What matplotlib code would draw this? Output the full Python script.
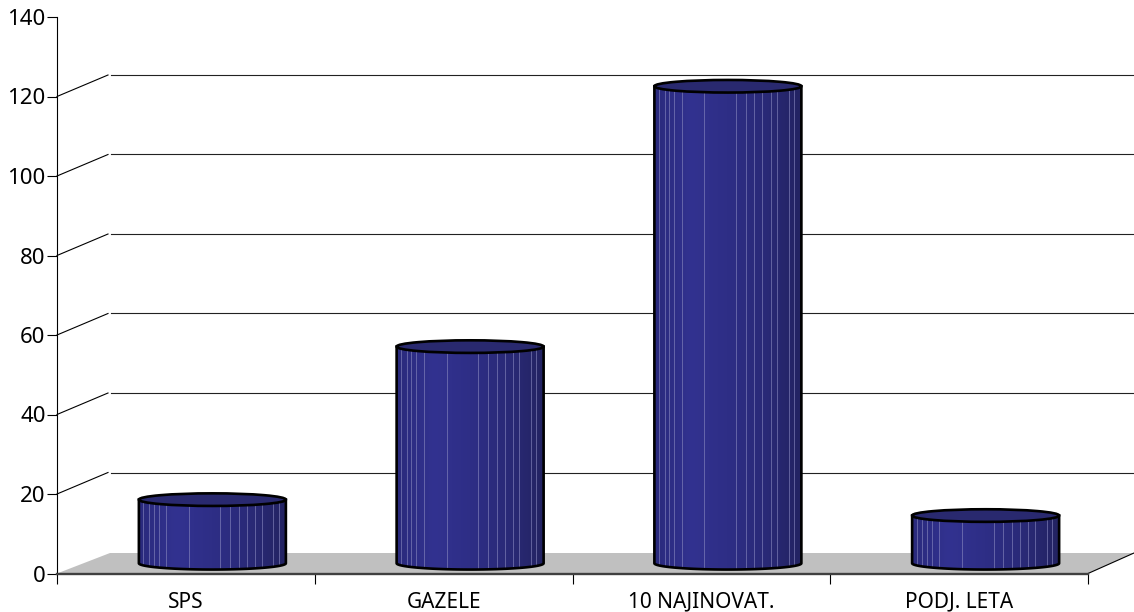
import matplotlib.pyplot as plt
import numpy as np
from matplotlib.colors import LinearSegmentedColormap
from matplotlib.patches import Ellipse, PathPatch, Polygon
from matplotlib.path import Path

plt.rcParams['font.family'] = ['Noto Sans', 'DejaVu Sans']

categories = ['SPS', 'GAZELE', '10 NAJINOVAT.', 'PODJ. LETA']
values = [16, 54.5, 120, 12]
y_ticks = [0, 20, 40, 60, 80, 100, 120, 140]

# pixel -> data factors
px_x = 4 / (1088 - 57)
px_y = 140 / (573.5 - 17)
depth_x = 53 * px_x
depth_y = 20.5 * px_y
half_w = 73.5 * px_x
ell_h = 6.3 * px_y

# where the light streaks sit across a bar (0..1)
streaks = [0.03, 0.07, 0.10, 0.135, 0.185, 0.34, 0.555, 0.62, 0.68, 0.735, 0.79, 0.835, 0.915, 0.95]

shade = LinearSegmentedColormap.from_list('shade', ['#2a2a7c', '#323290', '#2e2e86', '#2a2a78', '#232362'])

fig = plt.figure(figsize=(11.34, 6.12), dpi=100)
ax = fig.add_axes([57 / 1134, 1 - 573.5 / 612, (1088 - 57) / 1134, (573.5 - 17) / 612])

# floor
floor = Polygon([(-0.5, 0), (-0.5 + depth_x, depth_y), (3.5 + 46 * px_x, depth_y), (3.5, 0)],
                facecolor='#c0c0c0', edgecolor='none', clip_on=False, zorder=1)
ax.add_patch(floor)

# back grid and the slanted lines up to it
for v in y_ticks[1:-1]:
    ax.plot([-0.5 + 54 * px_x, 3.5 + 46 * px_x], [v + 21.5 * px_y, v + 21.5 * px_y], color='#222222', lw=0.8,
            clip_on=False, zorder=1)
    ax.plot([-0.5, -0.5 + 51 * px_x], [v, v + 21.5 * px_y], color='black', lw=0.8, clip_on=False, zorder=1)
ax.plot([3.5, 3.5 + 46 * px_x], [0, depth_y], color='black', lw=0.8, clip_on=False, zorder=1)

# cylinders
for i, val in enumerate(values):
    cx = i + depth_x / 2
    base = depth_y / 2
    top_y = val + base
    left, right = cx - half_w, cx + half_w
    t = np.linspace(np.pi, 2 * np.pi, 60)
    xs = cx + half_w * np.cos(t)
    low = base + ell_h * np.sin(t)
    pts = np.vstack([[left, top_y], *np.column_stack([xs, low]), [right, top_y]])
    pts = np.vstack([pts, pts[0]])
    codes = [Path.MOVETO] + [Path.LINETO] * (len(pts) - 2) + [Path.CLOSEPOLY]
    body = PathPatch(Path(pts, codes), facecolor='#2c2c80', edgecolor='none', clip_on=False, zorder=3)
    ax.add_patch(body)
    img = ax.imshow(np.linspace(0, 1, 256).reshape(1, -1), cmap=shade, aspect='auto',
                    extent=[left, right, 0, top_y + 1], zorder=3)
    img.set_clip_path(body)
    for s in streaks:
        sx = left + s * (right - left)
        line, = ax.plot([sx, sx], [0, top_y], color='#8a8ac0', lw=0.7, alpha=0.6, zorder=3)
        line.set_clip_path(body)
    outline = PathPatch(Path(pts, codes), facecolor='none', edgecolor='black', lw=1.9, clip_on=False, zorder=4)
    ax.add_patch(outline)
    top = Ellipse((cx, top_y), 2 * half_w, 2 * ell_h, facecolor='#29296f', edgecolor='black', lw=1.9,
                  clip_on=False, zorder=5)
    ax.add_patch(top)

ax.set_xlim(-0.5, 3.5)
ax.set_ylim(0, 140)

for side in ['top', 'right']:
    ax.spines[side].set_visible(False)
ax.spines['left'].set_linewidth(0.8)
ax.spines['bottom'].set_linewidth(1.7)
ax.spines['bottom'].set_color('#404040')

ax.set_yticks(y_ticks)
ax.tick_params(axis='y', length=7.2, width=0.8, labelsize=16, pad=1)
ax.set_xticks(np.arange(-0.5, 4, 1))
ax.set_xticklabels([])
ax.tick_params(axis='x', which='major', length=7.5, width=0.8)
ax.set_xticks(range(4), categories, minor=True)
ax.tick_params(axis='x', which='minor', length=0, labelsize=15, pad=13)

fig.savefig('out.png', dpi=100)
